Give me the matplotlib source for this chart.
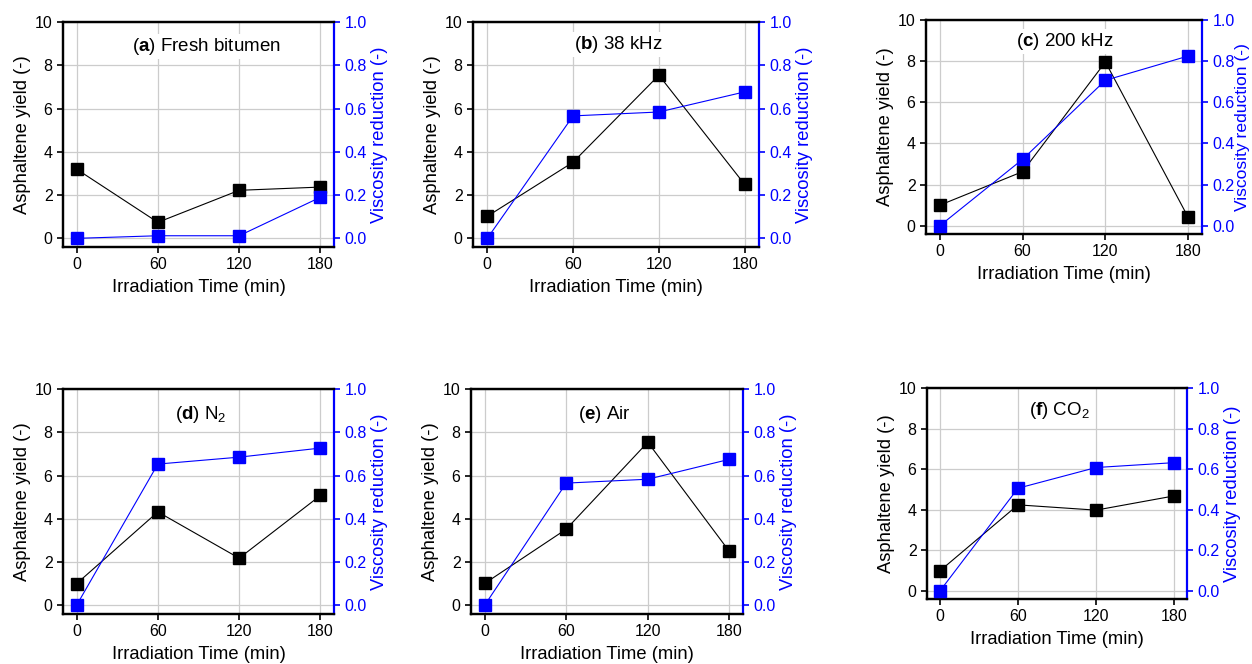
import numpy as np
import matplotlib
matplotlib.use("Agg")
import matplotlib.pyplot as plt

plt.rcParams['font.family'] = ['Liberation Sans', 'DejaVu Sans']
plt.rcParams['mathtext.fontset'] = 'custom'
plt.rcParams['mathtext.rm'] = 'Liberation Sans'
plt.rcParams['mathtext.bf'] = 'Liberation Sans:bold'
plt.rcParams['mathtext.it'] = 'Liberation Sans:italic'

# irradiation time (min)
time = [0, 60, 120, 180]

titles = [r"($\mathbf{a}$) Fresh bitumen", r"($\mathbf{b}$) 38 kHz", r"($\mathbf{c}$) 200 kHz",
          r"($\mathbf{d}$) N$_2$", r"($\mathbf{e}$) Air", r"($\mathbf{f}$) CO$_2$"]

# asphaltene yield (-) per panel
asph_a = [3.2, 0.74, 2.22, 2.37]
asph_b = [1.02, 3.52, 7.54, 2.49]
asph_c = [1.0, 2.63, 7.96, 0.41]
asph_d = [1.0, 4.32, 2.18, 5.08]
asph_e = [1.01, 3.52, 7.54, 2.49]
asph_f = [0.99, 4.24, 3.98, 4.68]

# viscosity reduction (-) per panel
visc_a = [0.0, 0.012, 0.012, 0.19]
visc_b = [0.0, 0.566, 0.584, 0.677]
visc_c = [0.0, 0.323, 0.707, 0.825]
visc_d = [0.0, 0.653, 0.685, 0.727]
visc_e = [0.0, 0.565, 0.583, 0.675]
visc_f = [0.0, 0.506, 0.608, 0.632]

asph = [asph_a, asph_b, asph_c, asph_d, asph_e, asph_f]
visc = [visc_a, visc_b, visc_c, visc_d, visc_e, visc_f]

# axes boxes in pixels: left, right, top, bottom
W, H = 1252, 664
boxes = [(63, 334, 22, 247), (473, 759, 22, 247), (926, 1202, 20, 234),
         (63, 334, 389, 614), (471, 743, 389, 614), (927, 1187, 388, 599)]
title_pos = [(0.53, 0.89), (0.507, 0.9), (0.505, 0.9),
             (0.51, 0.885), (0.49, 0.885), (0.51, 0.895)]
rpad = [3, 3, 0, 3, 3, 3]

blue = '#0000ff'
fig = plt.figure(figsize=(W / 100, H / 100), dpi=100)

for i in range(6):
    l, r, t, b = boxes[i]
    ax = fig.add_axes([l / W, 1 - b / H, (r - l) / W, (b - t) / H])
    ax2 = ax.twinx()

    ax.grid(True, color='#cccccc', linewidth=0.9)
    ax.set_axisbelow(True)
    ax.plot(time, asph[i], color='black', linewidth=0.8, marker='s', markersize=8,
            markerfacecolor='black', markeredgecolor='black', zorder=3)
    ax2.plot(time, visc[i], color=blue, linewidth=0.8, marker='s', markersize=8,
             markerfacecolor=blue, markeredgecolor=blue, zorder=3)

    ax.set_xlim(-10, 190)
    ax.set_ylim(-0.4, 10)
    ax2.set_ylim(-0.04, 1.0)
    ax.set_xticks(time)
    ax.set_yticks([0, 2, 4, 6, 8, 10])
    ax2.set_yticks([0.0, 0.2, 0.4, 0.6, 0.8, 1.0])
    ax2.set_yticklabels(['0.0', '0.2', '0.4', '0.6', '0.8', '1.0'])

    for s in ['left', 'bottom', 'top']:
        ax.spines[s].set_linewidth(1.6)
        ax2.spines[s].set_linewidth(1.6)
    ax2.spines['right'].set_linewidth(1.6)
    ax2.spines['right'].set_color(blue)
    ax.spines['right'].set_visible(False)

    ax.tick_params(axis='both', direction='out', length=4, width=1.2, labelsize=11.5)
    ax2.tick_params(axis='y', direction='out', length=4, width=1.2, labelsize=11.5,
                    colors=blue)

    ax.set_xlabel('Irradiation Time (min)', fontsize=13.2, labelpad=5)
    ax.set_ylabel('Asphaltene yield (-)', fontsize=13.2, labelpad=3)
    ax2.set_ylabel('Viscosity reduction (-)', fontsize=13.2 if i != 2 else 12.6,
                   color=blue, labelpad=rpad[i])

    tx, ty = title_pos[i]
    ax2.text(tx, ty, titles[i], transform=ax.transAxes, ha='center', va='center',
             fontsize=13.5, zorder=5,
             bbox=dict(facecolor='white', edgecolor='none', pad=1.5))

fig.savefig('out.png', dpi=100)
